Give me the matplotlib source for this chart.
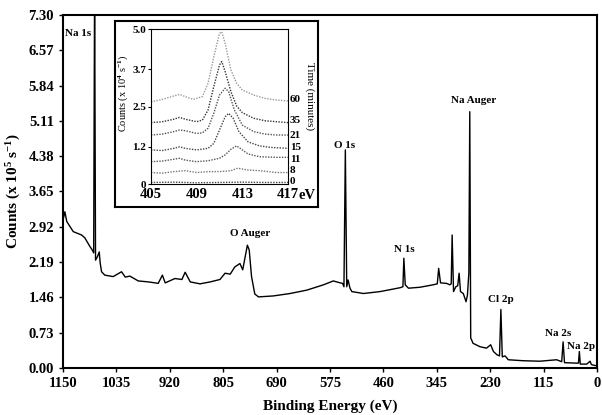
import matplotlib
matplotlib.use("Agg")
import matplotlib.pyplot as plt

plt.rcParams['font.family'] = ['Liberation Serif', 'DejaVu Serif']
plt.rcParams['mathtext.fontset'] = 'custom'
plt.rcParams['mathtext.rm'] = 'Liberation Serif:bold'
plt.rcParams['mathtext.it'] = 'Liberation Serif:bold'
plt.rcParams['mathtext.bf'] = 'Liberation Serif:bold'

# survey spectrum
be = [1150, 1146, 1142, 1128, 1110, 1103, 1092, 1087, 1084, 1082, 1080, 1076,
      1072, 1070, 1067, 1060, 1042, 1024, 1016, 1006, 988, 966, 945, 936, 930,
      909, 894, 887, 876, 855, 833, 812, 801, 790, 780, 769, 763, 753, 749, 744,
      737, 729, 697, 661, 625, 589, 568, 553, 548, 545, 542, 539, 536, 532, 528,
      503, 467, 424, 418, 416, 413, 406, 381, 353, 344, 341, 337, 324, 317, 314,
      312, 309, 304, 300, 297, 294, 288, 282, 279, 276, 274, 272, 270, 267, 252,
      238, 229, 223, 215, 210, 207, 204, 198, 191, 159, 123, 87, 76, 73, 70, 44,
      40, 38, 36, 22, 15, 12, 4, 0]
counts = [3.06, 3.23, 3.03, 2.82, 2.75, 2.69, 2.51, 2.44, 2.38, 8.00, 2.23, 2.30,
          2.40, 2.17, 1.99, 1.92, 1.89, 1.99, 1.88, 1.90, 1.80, 1.78, 1.75, 1.92, 1.76,
          1.85, 1.83, 1.98, 1.78, 1.74, 1.78, 1.83, 1.96, 1.94, 2.09, 2.16, 2.03, 2.54, 2.44, 1.89,
          1.53, 1.47, 1.49, 1.54, 1.61, 1.72, 1.80, 1.76, 1.75, 1.68, 4.51, 1.68, 1.82, 1.65, 1.58,
          1.54, 1.58, 1.66, 1.68, 2.27, 1.72, 1.65, 1.67, 1.72, 1.74, 2.06, 1.76, 1.75, 1.72, 1.74,
          2.75, 1.58, 1.68, 1.70, 1.96, 1.58, 1.54, 1.37, 1.51, 1.96, 5.30, 0.62, 0.58, 0.51, 0.44,
          0.41, 0.48, 0.34, 0.27, 0.25, 1.21, 0.23, 0.25, 0.17, 0.15, 0.14, 0.17, 0.13, 0.54, 0.11, 0.10,
          0.10, 0.34, 0.08, 0.08, 0.14, 0.07, 0.05, 0.05]
xticks = [1150, 1035, 920, 805, 690, 575, 460, 345, 230, 115, 0]
yticks = [0.00, 0.73, 1.46, 2.19, 2.92, 3.65, 4.38, 5.11, 5.84, 6.57, 7.30]

# inset: N 1s region vs time
times = ['60', '35', '21', '15', '11', '8', '0']
e60 = [405, 406, 407, 407.5, 408, 408.7, 409.5, 410, 410.5, 411, 411.2, 411.5, 412, 412.5, 413, 414, 415, 416, 417]
c60 = [2.65, 2.73, 2.84, 2.89, 2.82, 2.73, 2.82, 3.25, 4.10, 4.86, 4.91, 4.53, 3.68, 3.25, 3.03, 2.87, 2.76, 2.71, 2.68]
e35 = [405, 406, 407, 407.5, 408, 409, 409.5, 410, 410.5, 411, 411.2, 411.5, 412, 412.5, 413, 414, 415, 416, 417]
c35 = [1.98, 2.01, 2.09, 2.15, 2.09, 2.01, 2.06, 2.39, 3.14, 3.84, 3.95, 3.62, 2.98, 2.52, 2.30, 2.12, 2.04, 2.01, 1.98]
e21 = [405, 406, 407, 407.5, 408, 409, 409.5, 410, 410.5, 411, 411.5, 411.8, 412.3, 413, 414, 415, 416, 417]
c21 = [1.58, 1.61, 1.69, 1.74, 1.72, 1.63, 1.65, 1.80, 2.28, 2.87, 3.09, 2.98, 2.39, 1.90, 1.69, 1.61, 1.58, 1.58]
e15 = [405, 406, 407, 407.5, 408, 409, 410, 410.5, 411, 411.5, 411.8, 412.2, 412.7, 413.5, 414.5, 415.5, 417]
c15 = [1.10, 1.08, 1.15, 1.20, 1.15, 1.10, 1.15, 1.31, 1.74, 2.17, 2.28, 2.12, 1.69, 1.36, 1.23, 1.18, 1.15]
e11 = [405, 406, 407, 407.5, 408, 409, 410, 411, 411.5, 412, 412.5, 413, 413.5, 414.5, 416, 417]
c11 = [0.72, 0.74, 0.80, 0.83, 0.77, 0.72, 0.75, 0.83, 0.94, 1.12, 1.23, 1.10, 0.97, 0.88, 0.86, 0.86]
e8 = [405, 406, 407, 408, 409, 410, 411, 412, 412.6, 413.5, 414.5, 416, 417]
c8 = [0.37, 0.35, 0.40, 0.43, 0.37, 0.40, 0.40, 0.43, 0.51, 0.45, 0.43, 0.37, 0.37]
e0 = [405, 407, 409, 411, 413, 415, 417]
c0 = [0.05, 0.06, 0.04, 0.05, 0.06, 0.05, 0.05]
end_levels = [2.71, 2.06, 1.58, 1.18, 0.80, 0.45, 0.07]

fig = plt.figure(figsize=(6.02, 4.15), dpi=100)
ax = fig.add_axes([0.1047, 0.1133, 0.887, 0.8506])
ax.plot(be, counts, color='black', lw=1.0)
ax.set_xlim(1150, 0)
ax.set_ylim(0, 7.30)
ax.set_xticks(xticks)
ax.set_yticks(yticks)
ax.set_yticklabels(['%.2f' % v for v in yticks])
ax.tick_params(labelsize=10.5, length=3, width=1)
for lab in ax.get_xticklabels() + ax.get_yticklabels():
    lab.set_fontweight('bold')
for s in ax.spines.values():
    s.set_linewidth(1.5)
ax.set_xlabel('Binding Energy (eV)', fontsize=11, fontweight='bold', labelpad=7)
ax.set_ylabel('Counts (x 10$^5$ s$^{-1}$)', fontsize=11, fontweight='bold', labelpad=4)

kw = dict(fontsize=8, fontweight='bold', ha='center', va='center')
ax.text(1146, 6.91, 'Na 1s', fontsize=8, fontweight='bold', ha='left', va='center')
ax.text(747, 2.79, 'O Auger', **kw)
ax.text(543, 4.61, 'O 1s', **kw)
ax.text(416, 2.46, 'N 1s', **kw)
ax.text(265, 5.54, 'Na Auger', **kw)
ax.text(207, 1.41, 'Cl 2p', **kw)
ax.text(84, 0.72, 'Na 2s', **kw)
ax.text(34, 0.45, 'Na 2p', **kw)

# inset frame
box = fig.add_axes([0.191, 0.5012, 0.337, 0.4482])
box.set_xticks([])
box.set_yticks([])
for s in box.spines.values():
    s.set_linewidth(1.5)

ins = fig.add_axes([0.2508, 0.5566, 0.2276, 0.3735])
series = [(e60, c60), (e35, c35), (e21, c21), (e15, c15), (e11, c11), (e8, c8), (e0, c0)]
shades = ['#9a9a9a', '#333333', '#555555', '#444444', '#555555', '#777777', '#444444']
for (ex, cy), col in zip(series, shades):
    ins.plot(ex, cy, color=col, lw=1.0, ls=(0, (1, 1)))
ins.set_xlim(405, 417)
ins.set_ylim(0, 5.0)
ins.set_xticks([405, 409, 413, 417])
ins.set_yticks([0, 1.2, 2.5, 3.7, 5.0])
ins.set_yticklabels(['0', '1.2', '2.5', '3.7', '5.0'])
ins.tick_params(axis='x', labelsize=10.5, length=0, pad=3)
ins.tick_params(axis='y', labelsize=8, length=2, pad=1.5)
for lab in ins.get_xticklabels() + ins.get_yticklabels():
    lab.set_fontweight('bold')
for s in ins.spines.values():
    s.set_linewidth(0.8)
for t, lv in zip(times, end_levels):
    ins.text(417.15, lv, t, fontsize=8, fontweight='bold', ha='left', va='center', clip_on=False)
ins.text(1.075, -0.073, 'eV', transform=ins.transAxes, fontsize=10.5, fontweight='bold',
         ha='left', va='center')
fig.text(0.2045, 0.776, 'Counts (x 10$^4$ s$^{-1}$)', rotation=90, fontsize=7.5,
         ha='center', va='center')
fig.text(0.514, 0.769, 'Time (minutes)', rotation=-90, fontsize=8,
         ha='center', va='center')

fig.savefig('out.png', dpi=100)
